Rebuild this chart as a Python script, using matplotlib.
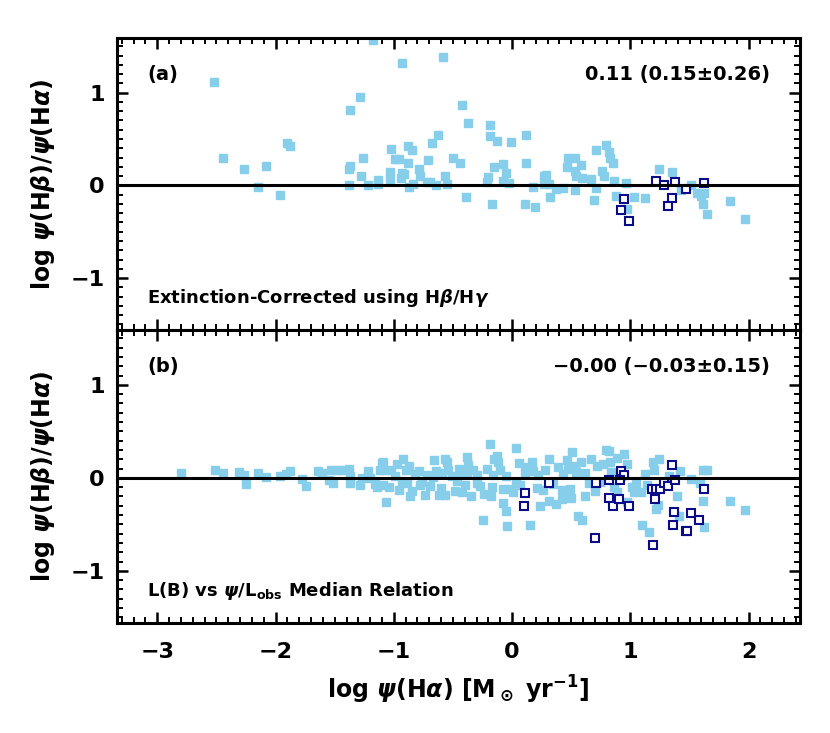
import matplotlib
matplotlib.use("Agg")
import matplotlib.pyplot as plt
from matplotlib.ticker import MultipleLocator

# panel (a): extinction corrected with Hbeta/Hgamma
a_x = [-2.52, -2.44, -2.27, -2.15, -2.08, -1.96, -1.90, -1.88, -1.38, -1.38,
       -1.37, -1.37, -1.29, -1.28, -1.26, -1.22, -1.18, -1.13, -1.13, -1.03,
       -1.03, -1.02, -0.99, -0.96, -0.93, -0.94, -0.93, -0.91, -0.88, -0.88,
       -0.87, -0.85, -0.84, -0.79, -0.78, -0.72, -0.71, -0.69, -0.68, -0.64,
       -0.63, -0.58, -0.57, -0.55, -0.50, -0.44, -0.42, -0.39, -0.37, -0.21,
       -0.20, -0.19, -0.19, -0.17, -0.15, -0.13, -0.08, -0.08, -0.05, -0.03,
       -0.01, 0.12, 0.12, 0.11, 0.19, 0.18, 0.27, 0.29, 0.31, 0.27,
       0.32, 0.37, 0.43, 0.47, 0.53, 0.46, 0.58, 0.53, 0.54, 0.59,
       0.53, 0.67, 0.71, 0.69, 0.71, 0.79, 0.82, 0.83, 0.85, 0.76,
       0.78, 0.86, 0.96, 0.88, 0.97, 1.03, 1.12, 1.24, 1.35, 1.43,
       1.51, 1.56, 1.62, 1.60, 1.61, 1.65, 1.84, 1.97]
a_y = [1.12, 0.29, 0.18, -0.02, 0.21, -0.10, 0.46, 0.42, 0.00, 0.18,
       0.21, 0.81, 0.95, 0.10, 0.29, 0.00, 1.57, 0.06, 0.02, 0.07,
       0.14, 0.39, 0.28, 0.28, 1.32, 0.08, 0.13, 0.12, 0.24, 0.43,
       -0.02, 0.38, 0.02, 0.18, 0.10, 0.04, 0.27, 0.04, 0.46, 0.00,
       0.54, 1.38, 0.10, 0.02, 0.29, 0.24, 0.87, -0.13, 0.67, 0.04,
       0.09, 0.65, 0.53, -0.20, 0.20, 0.48, 0.23, 0.05, 0.13, 0.03,
       0.47, 0.54, 0.24, -0.20, -0.23, -0.02, 0.10, 0.11, 0.02, 0.01,
       -0.13, -0.04, -0.03, 0.29, 0.30, 0.20, 0.22, 0.15, 0.10, 0.08,
       -0.05, 0.07, -0.03, -0.16, 0.38, 0.44, 0.36, 0.29, 0.24, 0.16,
       0.10, 0.05, 0.03, -0.11, -0.26, -0.13, -0.14, 0.18, 0.14, -0.05,
       0.00, -0.08, -0.08, -0.12, -0.20, -0.31, -0.17, -0.36]
a_open_x = [0.95, 0.92, 0.99, 1.22, 1.28, 1.38, 1.47, 1.62, 1.35, 1.32]
a_open_y = [-0.15, -0.27, -0.38, 0.05, 0.00, 0.04, -0.04, 0.03, -0.14, -0.22]

# panel (b): L(B) vs psi/L_obs median relation
b_x = [-2.80, -2.51, -2.44, -2.31, -2.27, -2.25, -2.15, -2.08, -1.96, -1.91,
       -1.88, -1.78, -1.74, -1.64, -1.61, -1.53, -1.55, -1.51, -1.48, -1.44,
       -1.38, -1.37, -1.37, -1.29, -1.27, -1.22, -1.20, -1.16, -1.14, -1.12,
       -1.10, -1.07, -1.04, -1.09, -1.08, -1.09, -1.02, -0.97, -0.96, -0.92,
       -0.90, -0.89, -0.87, -0.86, -0.85, -0.79, -0.78, -0.74, -0.72, -0.69,
       -0.66, -0.64, -0.62, -0.60, -0.57, -0.57, -0.55, -0.54, -0.51, -0.48,
       -0.45, -0.42, -0.40, -0.38, -0.37, -0.35, -0.38, -0.30, -0.30, -0.25,
       -0.24, -0.21, -0.19, -0.18, -0.17, -0.16, -0.15, -0.13, -0.12, -0.08,
       -0.08, -0.05, -0.05, -0.04, -0.01, 0.01, 0.03, 0.03, 0.06, 0.11,
       0.13, 0.15, 0.17, 0.18, 0.21, 0.24, 0.26, 0.28, 0.31, 0.31,
       0.37, 0.42, 0.42, 0.43, 0.46, 0.47, 0.49, 0.50, 0.51, 0.53,
       0.54, 0.56, 0.59, 0.58, 0.62, 0.65, 0.67, 0.72, 0.70, 0.77,
       0.79, 0.82, 0.83, 0.84, 0.89, 0.86, 0.89, 0.95, 0.97, 0.97,
       1.01, 1.03, 1.05, 1.09, 1.10, 1.12, 1.16, 1.19, 1.20, 1.22,
       1.23, 1.24, 1.28, 1.39, 1.42, 1.41, 1.51, 1.59, 1.61, 1.65,
       1.61, 1.62, 1.84, 1.97,
       -0.99, -0.93, -0.82, -0.76, -0.67, -0.59, -0.47, -0.43, -0.33, -0.27,
       -0.10, 0.07, 0.22, 0.35, 0.39, 0.62, 0.74, 0.92, 1.14, 1.33]
b_y = [0.05, 0.08, 0.05, 0.06, 0.03, -0.07, 0.05, 0.01, 0.02, 0.04,
       0.07, -0.01, -0.09, 0.07, 0.05, 0.08, -0.02, -0.05, 0.08, 0.08,
       0.10, 0.02, -0.06, -0.08, 0.00, 0.07, 0.00, -0.07, -0.10, 0.08,
       0.16, -0.26, -0.10, 0.17, 0.08, -0.08, 0.08, 0.15, -0.13, 0.20,
       0.08, -0.05, 0.13, -0.19, -0.14, 0.07, -0.08, -0.18, 0.03, -0.09,
       0.19, 0.07, -0.18, -0.11, -0.18, 0.20, 0.17, 0.09, 0.02, -0.14,
       0.10, -0.15, -0.08, 0.22, 0.14, -0.20, 0.06, -0.05, 0.03, -0.45,
       -0.17, 0.10, 0.36, -0.19, -0.10, 0.03, 0.20, 0.24, 0.17, -0.27,
       -0.12, 0.02, -0.36, -0.52, -0.12, -0.15, 0.32, -0.05, 0.16, 0.06,
       0.12, -0.51, 0.17, 0.07, -0.11, -0.30, -0.13, 0.08, 0.20, -0.25,
       -0.28, -0.13, -0.23, 0.04, 0.19, 0.10, -0.12, -0.22, 0.28, 0.13,
       0.06, -0.41, -0.45, 0.17, -0.19, -0.06, 0.20, 0.13, -0.14, 0.15,
       0.30, 0.29, 0.17, 0.06, 0.21, -0.10, -0.15, 0.26, 0.15, -0.26,
       -0.10, -0.15, -0.06, -0.15, -0.51, 0.04, -0.58, 0.17, 0.08, -0.33,
       -0.29, 0.20, -0.05, -0.19, 0.07, -0.41, -0.01, -0.05, 0.08, 0.08,
       -0.25, -0.53, -0.25, -0.34,
       0.02, -0.03, 0.04, -0.04, 0.01, 0.05, -0.03, 0.04, 0.09, -0.09,
       0.08, -0.08, 0.03, -0.07, 0.12, 0.05, -0.04, 0.02, -0.08, 0.02]
b_open_x = [0.11, 0.10, 0.31, 0.71, 0.82, 0.92, 0.95, 0.91, 0.82, 0.85,
            0.90, 0.99, 0.70, 1.18, 1.22, 1.25, 1.28, 1.32, 1.21, 1.35,
            1.38, 1.19, 1.37, 1.36, 1.47, 1.48, 1.51, 1.58, 1.62]
b_open_y = [-0.16, -0.30, -0.05, -0.05, -0.02, 0.07, 0.03, -0.02, -0.22, -0.30,
            -0.23, -0.30, -0.65, -0.12, -0.12, -0.12, -0.06, -0.09, -0.23, 0.14,
            -0.02, -0.72, -0.37, -0.51, -0.57, -0.57, -0.38, -0.45, -0.12]

panel_tags = ["(a)", "(b)"]
panel_stats = ["0.11 (0.15\u00b10.26)", "\u22120.00 (\u22120.03\u00b10.15)"]
panel_notes = [r"Extinction-Corrected using H$\beta$/H$\gamma$",
               r"L(B) vs $\psi$/L$_{\rm obs}$ Median Relation"]

LIGHT = "#87ceeb"
DARK = "#0b0b8a"

plt.rcParams["font.family"] = ["DejaVu Sans"]
plt.rcParams["font.weight"] = "bold"
plt.rcParams["axes.labelweight"] = "bold"
plt.rcParams["mathtext.fontset"] = "custom"
plt.rcParams["mathtext.rm"] = "DejaVu Sans:bold"
plt.rcParams["mathtext.it"] = "DejaVu Sans:italic:bold"
plt.rcParams["mathtext.bf"] = "DejaVu Sans:bold"

fig = plt.figure(figsize=(8.3, 7.33), dpi=100)
ax_top = fig.add_axes([0.141, 0.5498, 0.823, 0.3984])
ax_bot = fig.add_axes([0.141, 0.1501, 0.823, 0.3997])

panels = [(ax_top, a_x, a_y, a_open_x, a_open_y),
          (ax_bot, b_x, b_y, b_open_x, b_open_y)]

for i, (ax, x, y, ox, oy) in enumerate(panels):
    ax.plot(x, y, linestyle="none", marker="s", markersize=5.8,
            color=LIGHT, mec=LIGHT, zorder=2)
    ax.plot(ox, oy, linestyle="none", marker="s", markersize=6.2,
            mfc="white", mec=DARK, mew=1.5, zorder=3)
    ax.axhline(0, color="black", lw=2.2, zorder=4)

    ax.set_xlim(-3.34, 2.435)
    ax.set_ylim(-1.56, 1.59)
    ax.xaxis.set_major_locator(MultipleLocator(1))
    ax.xaxis.set_minor_locator(MultipleLocator(0.1))
    ax.yaxis.set_major_locator(MultipleLocator(1))
    ax.yaxis.set_minor_locator(MultipleLocator(0.1))
    ax.tick_params(which="both", direction="in", top=True, right=True,
                   labelsize=16)
    ax.tick_params(axis="y", pad=9)
    ax.tick_params(axis="x", pad=14)
    ax.tick_params(which="major", length=8, width=1.8)
    ax.tick_params(which="minor", length=4, width=1.4)
    for s in ax.spines.values():
        s.set_linewidth(2.2)

    ax.set_ylabel(r"log $\psi$(H$\beta$)/$\psi$(H$\alpha$)", fontsize=17,
                  labelpad=10)

    ax.text(0.044, 0.875, panel_tags[i], transform=ax.transAxes,
            fontsize=14, va="center", ha="left")
    ax.text(0.956, 0.875, panel_stats[i], transform=ax.transAxes,
            fontsize=14, va="center", ha="right")
    ax.text(0.044, 0.11, panel_notes[i], transform=ax.transAxes,
            fontsize=13, va="center", ha="left")

ax_top.tick_params(labelbottom=False)
ax_bot.set_xlabel(r"log $\psi$(H$\alpha$) [M$_\odot$ yr$^{-1}$]",
                  fontsize=17, labelpad=8)

fig.savefig("out.png", dpi=100)
